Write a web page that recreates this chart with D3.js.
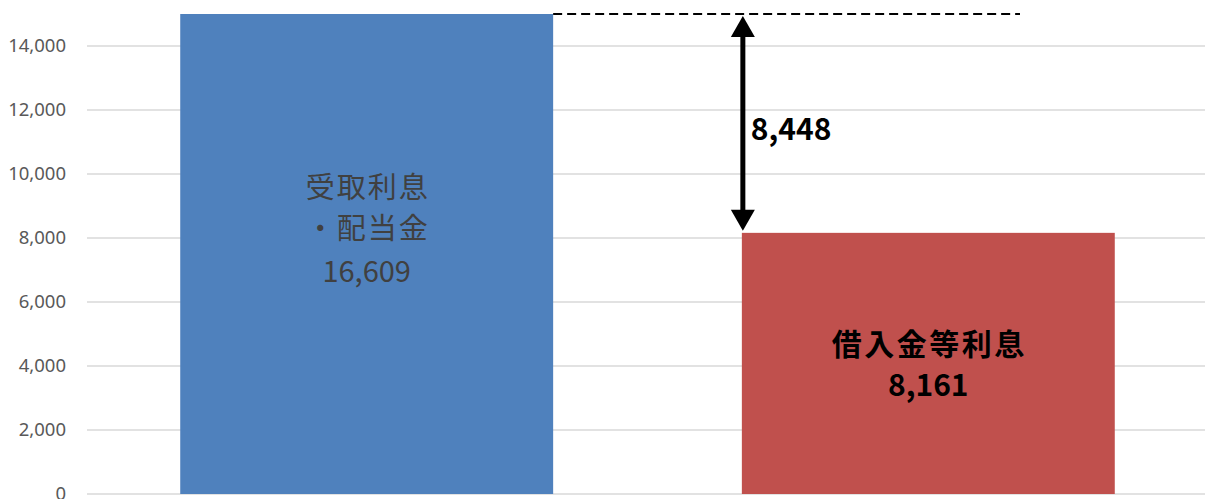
<!DOCTYPE html>
<html><head><meta charset="utf-8">
<script src="https://cdn.jsdelivr.net/npm/d3@7"></script>
<style>body{margin:0;background:#fff}svg{display:block}</style>
</head><body>
<svg id="c" width="1205" height="499"></svg>
<script>
const categories = ["受取利息・配当金", "借入金等利息"];
const values = [16609, 8161];
const labelLines = [["受取利息", "・配当金", "16,609"], ["借入金等利息", "8,161"]];
const tickValues = [0, 2000, 4000, 6000, 8000, 10000, 12000, 14000];
const diffLabel = "8,448";
const colors = ["#4F81BD", "#C0504D"];

const svg = d3.select("#c");
const pTop = 14, pBottom = 494, pLeft = 87, pRight = 1208;
const yMax = 15000;
const y = d3.scaleLinear().domain([0, yMax]).range([pBottom, pTop]);
const x = d3.scaleBand().domain(categories).range([pLeft, pRight]).paddingInner(0.336).paddingOuter(0.166);

// gridlines
svg.append("g").selectAll("line").data(tickValues).join("line")
  .attr("x1", pLeft).attr("x2", 1205)
  .attr("y1", d => y(d)).attr("y2", d => y(d))
  .attr("stroke", "#d9d9d9").attr("stroke-width", 1.3);

// axis labels
const axis = d3.axisLeft(y).tickValues(tickValues).tickFormat(d3.format(",")).tickSize(0).tickPadding(21);
const ag = svg.append("g").attr("transform", `translate(${pLeft},0)`).call(axis);
ag.select(".domain").remove();
ag.selectAll("text").attr("font-family", "'Noto Sans', 'Open Sans', sans-serif")
  .attr("font-size", 18.5).attr("fill", "#595959");

// bars (clipped at top)
svg.append("defs").append("clipPath").attr("id", "clip")
  .append("rect").attr("x", 0).attr("y", pTop).attr("width", 1205).attr("height", pBottom - pTop);
svg.append("g").attr("clip-path", "url(#clip)").selectAll("rect").data(categories).join("rect")
  .attr("x", d => x(d)).attr("width", x.bandwidth())
  .attr("y", (d, i) => y(values[i])).attr("height", (d, i) => pBottom - y(values[i]))
  .attr("fill", (d, i) => colors[i]);

// bar labels
const cx0 = x(categories[0]) + x.bandwidth() / 2;
const cx1 = x(categories[1]) + x.bandwidth() / 2;
const t0 = svg.append("text").attr("text-anchor", "middle")
  .attr("font-family", "'Noto Sans CJK JP', sans-serif").attr("font-size", 29).attr("fill", "#404040");
const by0 = [198, 239, 282];
labelLines[0].forEach((s, i) => t0.append("tspan").attr("x", cx0 + (i < 2 ? 1 : 0)).attr("y", by0[i])
  .attr("letter-spacing", i < 2 ? 2 : 0).text(s));
const t1 = svg.append("text").attr("text-anchor", "middle")
  .attr("font-family", "'Noto Sans CJK JP', sans-serif").attr("font-size", 30).attr("font-weight", "bold").attr("fill", "#000");
const by1 = [355, 396];
labelLines[1].forEach((s, i) => t1.append("tspan").attr("x", cx1 + (i < 1 ? 1 : 0)).attr("y", by1[i])
  .attr("letter-spacing", i < 1 ? 2.5 : 0).text(s));

// dashed line at top of blue bar (clipped)
const barRight0 = x(categories[0]) + x.bandwidth();
const ax = x(categories[1]) + 1;
svg.append("line").attr("x1", barRight0).attr("x2", 1020)
  .attr("y1", y(yMax)).attr("y2", y(yMax))
  .attr("stroke", "#000").attr("stroke-width", 1.8).attr("stroke-dasharray", "9,5");

// double arrow
const yTop = y(yMax), yBot = y(values[1]);
const ah = 23, aw = 12;
svg.append("line").attr("x1", ax).attr("x2", ax).attr("y1", yTop + ah - 2).attr("y2", yBot - ah + 2)
  .attr("stroke", "#000").attr("stroke-width", 5);
svg.append("path").attr("d", `M${ax},${yTop + 2} L${ax - aw},${yTop + ah} L${ax + aw},${yTop + ah} Z`).attr("fill", "#000");
svg.append("path").attr("d", `M${ax},${yBot - 2} L${ax - aw},${yBot - ah} L${ax + aw},${yBot - ah} Z`).attr("fill", "#000");

svg.append("text").attr("x", ax + 8).attr("y", 140)
  .attr("font-family", "'Noto Sans CJK JP', sans-serif").attr("font-size", 30).attr("font-weight", "bold")
  .attr("fill", "#000").text(diffLabel);
</script>
</body></html>
